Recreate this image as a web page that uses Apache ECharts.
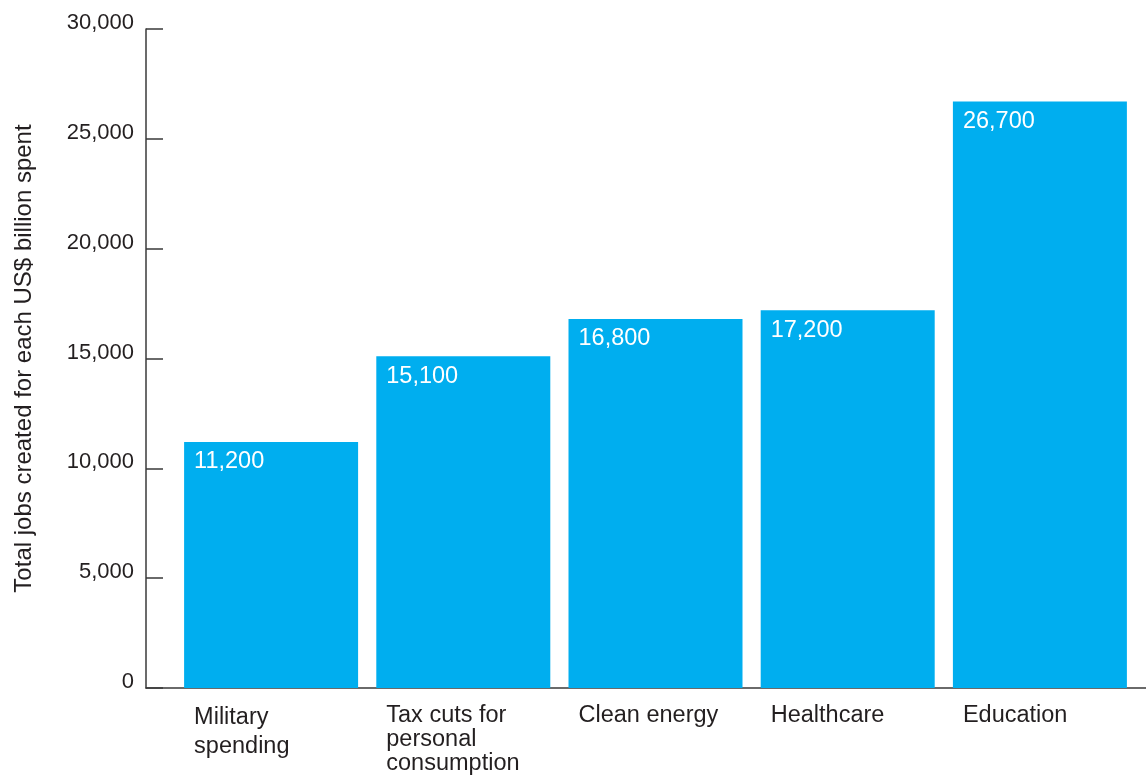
<!DOCTYPE html>
<html>
<head>
<meta charset="utf-8">
<script src="https://cdn.jsdelivr.net/npm/echarts@6/dist/echarts.min.js"></script>
<style>
  html, body { margin: 0; padding: 0; background: #ffffff; }
  #chart { width: 1146px; height: 776px; }
</style>
</head>
<body>
<div id="chart"></div>
<script>
// Jobs created per US$ billion of spending, by sector
const categories = ['Military\nspending', 'Tax cuts for\npersonal\nconsumption', 'Clean energy', 'Healthcare', 'Education'];
const jobs = [11200, 15100, 16800, 17200, 26700];
const yTicks = { min: 0, max: 30000, interval: 5000 };
const yTitle = 'Total jobs created for each US$ billion spent';

const FONT = '"Liberation Sans", Arial, Helvetica, sans-serif';
const TEXT = '#231f20';
const AXIS = '#3a3a3a';
const BAR = '#00aeef';
const LABEL_SIZE = 23.5;

const chart = echarts.init(document.getElementById('chart'), null, { renderer: 'canvas' });

const catToken = { width: 164, align: 'left', fontSize: LABEL_SIZE, color: TEXT, fontFamily: FONT };

chart.setOption({
  animation: false,
  backgroundColor: '#ffffff',
  textStyle: { fontFamily: FONT },
  grid: [
    // bars
    { left: 175, right: 10, top: 29, bottom: 88, outerBoundsMode: 'none', containLabel: false },
    // frame: value axis on the left and baseline across the full width
    { left: 146, right: 0, top: 29, bottom: 88, outerBoundsMode: 'none', containLabel: false }
  ],
  xAxis: [
    {
      type: 'category',
      gridIndex: 0,
      data: categories,
      axisLine: { show: false },
      axisTick: { show: false },
      axisLabel: {
        interval: 0,
        margin: 15,
        align: 'center',
        formatter: v => {
          const lines = v.split('\n');
          // two-line labels are set a little looser than three-line ones
          const style = lines.length === 2 ? 'wide' : 'tight';
          return lines.map(s => '{' + style + '|' + s + '}').join('\n');
        },
        rich: {
          tight: Object.assign({ lineHeight: 24, padding: [2, 0, 0, 10] }, catToken),
          wide: Object.assign({ lineHeight: 29, padding: [0, 0, 0, 10] }, catToken)
        }
      }
    },
    {
      type: 'value',
      gridIndex: 1,
      min: 0,
      max: 1,
      axisLine: { show: true, lineStyle: { color: AXIS, width: 1.5 } },
      axisTick: { show: false },
      axisLabel: { show: false },
      splitLine: { show: false }
    }
  ],
  yAxis: [
    {
      type: 'value',
      gridIndex: 0,
      min: yTicks.min,
      max: yTicks.max,
      interval: yTicks.interval,
      show: false
    },
    {
      type: 'value',
      gridIndex: 1,
      min: yTicks.min,
      max: yTicks.max,
      interval: yTicks.interval,
      name: yTitle,
      nameLocation: 'middle',
      nameGap: 110,
      nameTextStyle: { fontSize: 24, color: TEXT, fontFamily: FONT },
      axisLine: { show: true, lineStyle: { color: AXIS, width: 1.5 } },
      axisTick: { show: true, inside: true, length: 17, lineStyle: { color: AXIS, width: 1.5 } },
      axisLabel: {
        margin: 12,
        fontSize: 22,
        color: TEXT,
        fontFamily: FONT,
        verticalAlign: 'bottom',
        lineHeight: 22,
        padding: [0, 0, -5, 0],
        formatter: v => v.toLocaleString('en-US')
      },
      splitLine: { show: false }
    }
  ],
  series: [
    {
      type: 'bar',
      xAxisIndex: 0,
      yAxisIndex: 0,
      data: jobs,
      barWidth: 174,
      itemStyle: { color: BAR },
      label: {
        show: true,
        position: [10, 8],
        color: '#ffffff',
        fontSize: LABEL_SIZE,
        fontFamily: FONT,
        formatter: p => p.value.toLocaleString('en-US')
      }
    }
  ]
});
</script>
</body>
</html>
